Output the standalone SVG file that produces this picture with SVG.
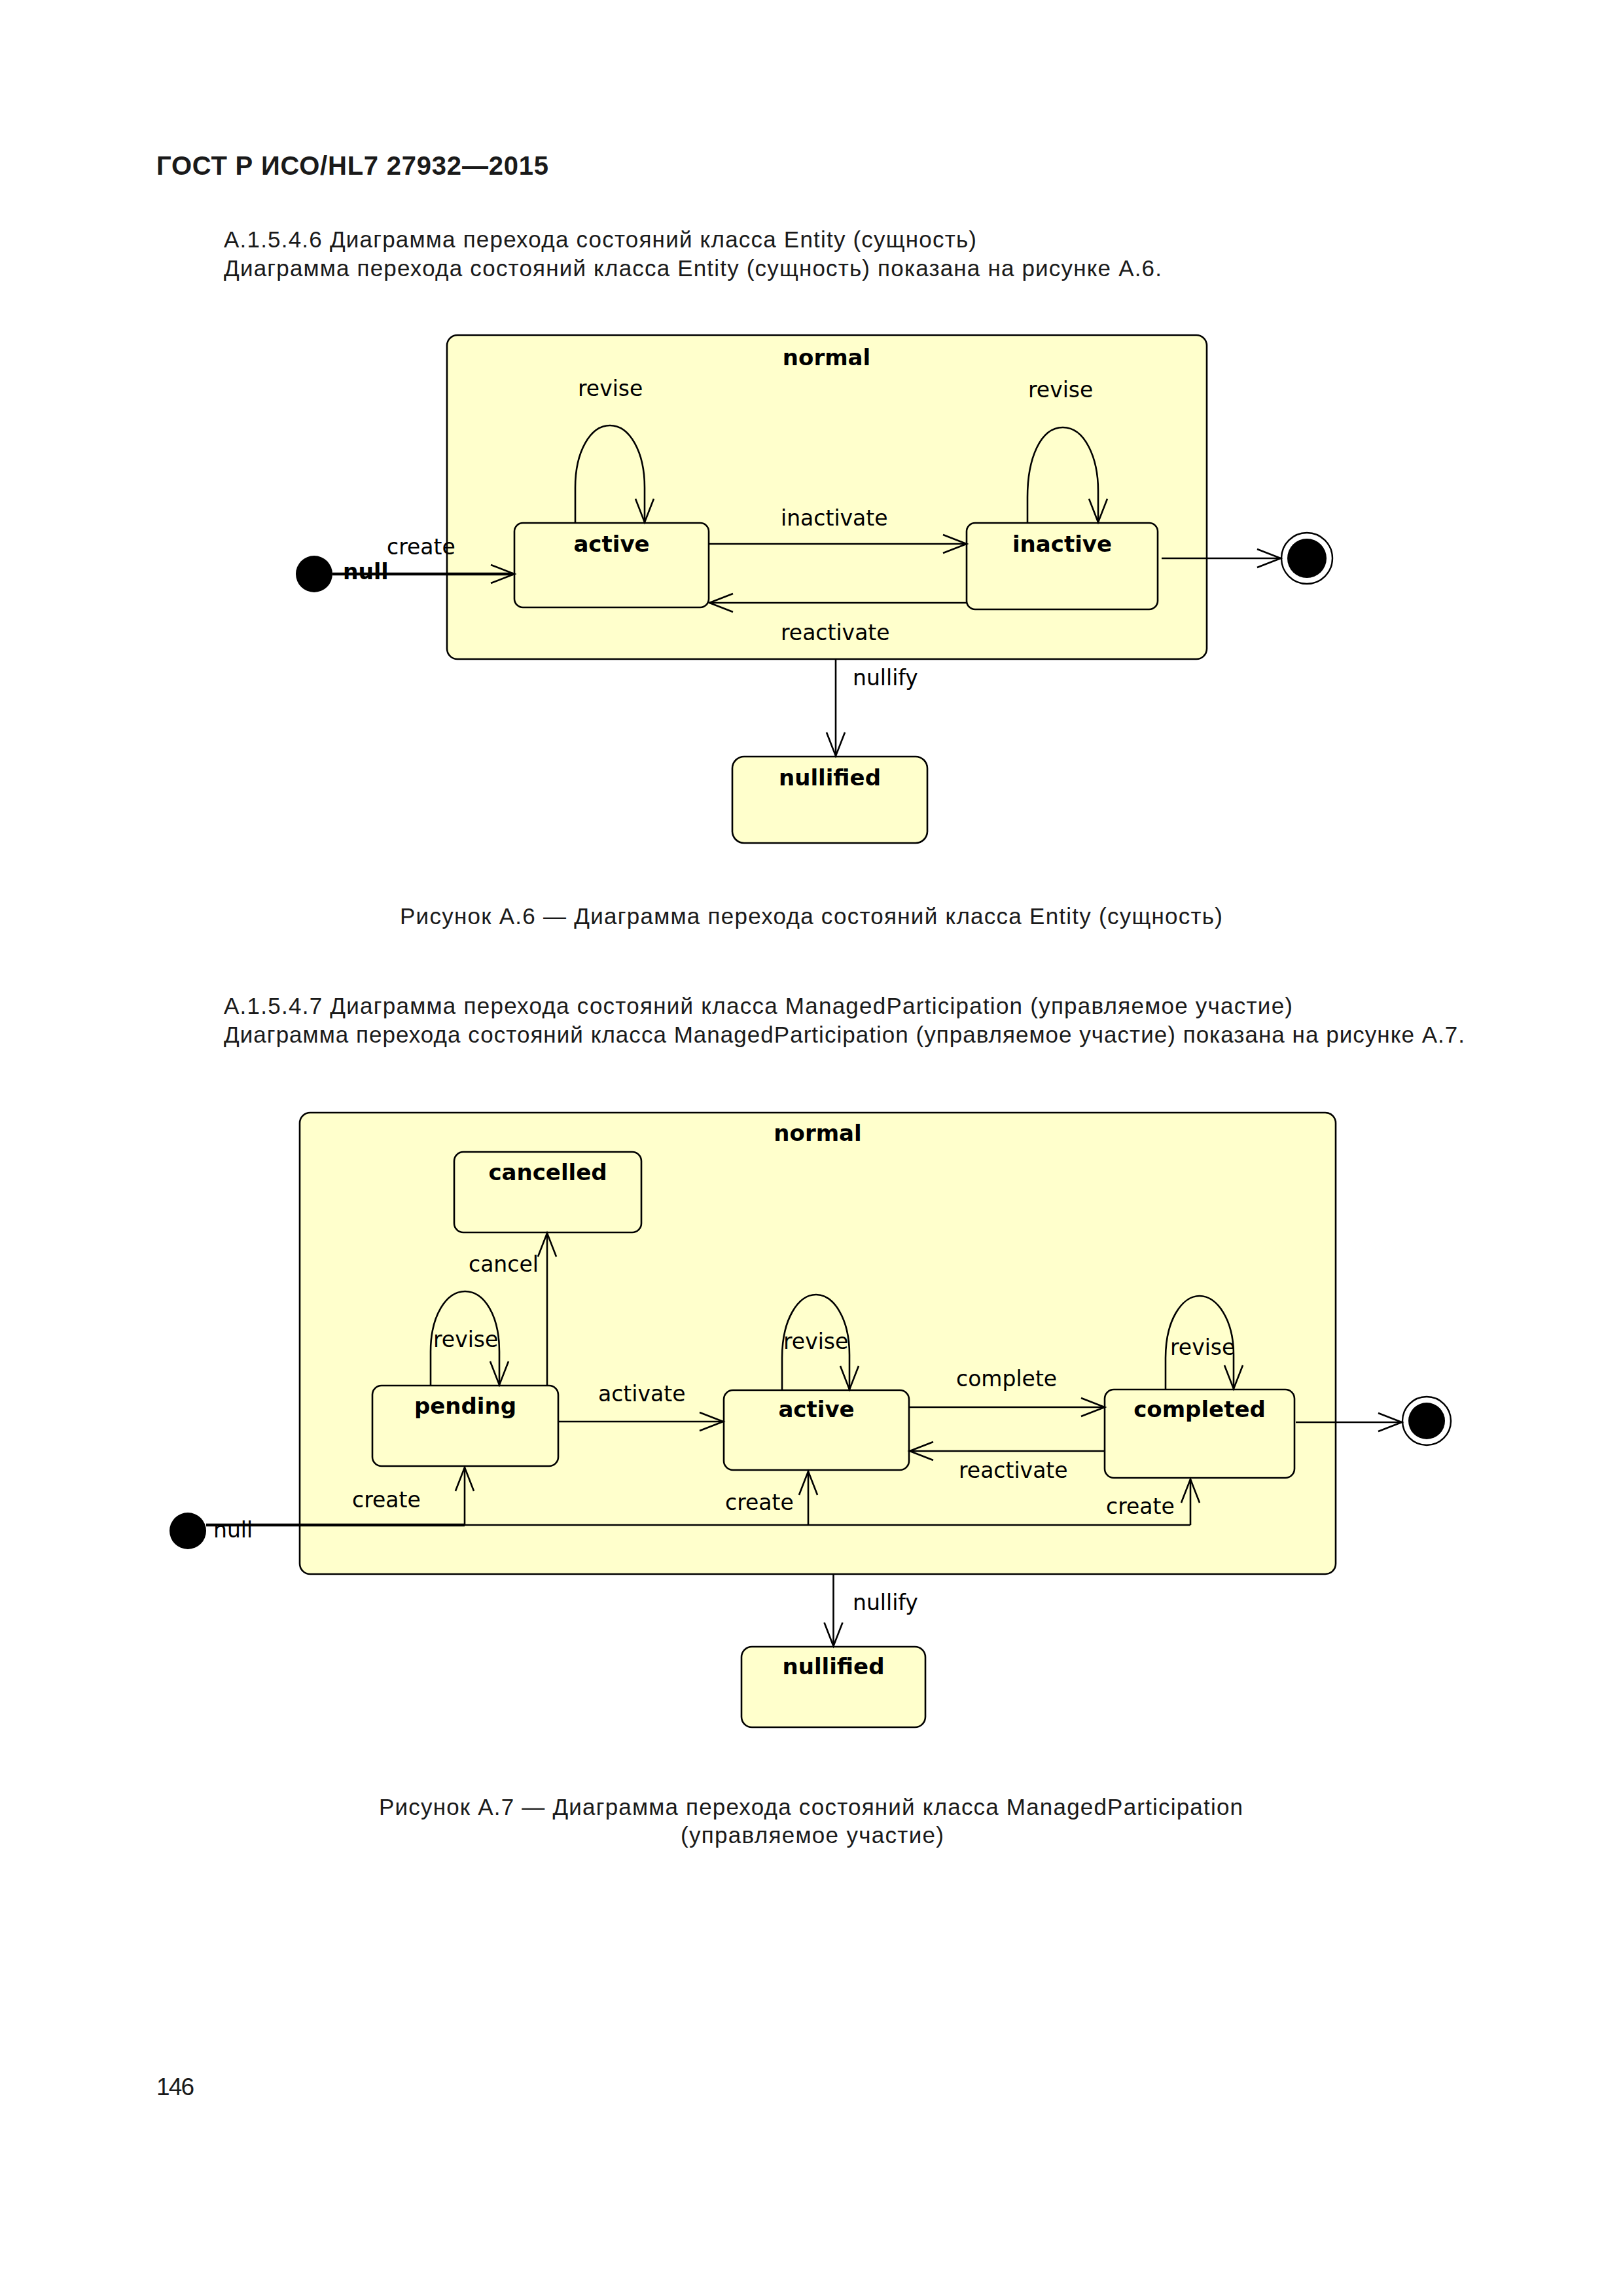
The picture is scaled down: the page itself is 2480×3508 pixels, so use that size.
<svg xmlns="http://www.w3.org/2000/svg" width="2480" height="3508" viewBox="0 0 2480 3508">
<defs>
<style>
.doc{font-family:"Liberation Sans",Arial,sans-serif;font-size:35px;fill:#1a1a1a}
.hdr{font-family:"Liberation Sans",Arial,sans-serif;font-size:40px;font-weight:bold;fill:#1a1a1a}
.box{fill:#FFFFCC;stroke:#000;stroke-width:2.6}
.st{font-family:"DejaVu Sans",Verdana,sans-serif;font-size:34px;font-weight:bold;fill:#000;text-anchor:middle}
.lb{font-family:"DejaVu Sans",Verdana,sans-serif;font-size:33px;fill:#000}
.lbb{font-family:"DejaVu Sans",Verdana,sans-serif;font-size:33px;font-weight:bold;fill:#000}
.ln{fill:none;stroke:#000;stroke-width:2.6}
.thick{fill:none;stroke:#000;stroke-width:4.6}
.ar{marker-end:url(#arr)}
.dot{fill:#000}
.ring{fill:#fff;stroke:#000;stroke-width:2.4}
</style>
<marker id="arr" markerUnits="userSpaceOnUse" viewBox="-40 -18 44 36" markerWidth="44" markerHeight="36" refX="0" refY="0" orient="auto" overflow="visible"><path d="M-36,-14 L0,0 L-36,14" fill="none" stroke="#000" stroke-width="2.6"/></marker>
</defs>
<rect x="0" y="0" width="2480" height="3508" fill="#fff"/>

<g id="page-text">
<text class="hdr" x="239" y="267" textLength="599">ГОСТ Р ИСО/HL7 27932—2015</text>
<text class="doc" x="342" y="378" textLength="1150">А.1.5.4.6 Диаграмма перехода состояний класса Entity (сущность)</text>
<text class="doc" x="342" y="422" textLength="1433">Диаграмма перехода состояний класса Entity (сущность) показана на рисунке А.6.</text>
<text class="doc" x="611" y="1412" textLength="1257">Рисунок А.6 — Диаграмма перехода состояний класса Entity (сущность)</text>
<text class="doc" x="342" y="1549" textLength="1633">А.1.5.4.7 Диаграмма перехода состояний класса ManagedParticipation (управляемое участие)</text>
<text class="doc" x="342" y="1593" textLength="1896">Диаграмма перехода состояний класса ManagedParticipation (управляемое участие) показана на рисунке А.7.</text>
<text class="doc" x="579" y="2773" textLength="1320">Рисунок А.7 — Диаграмма перехода состояний класса ManagedParticipation</text>
<text class="doc" x="1040" y="2816" textLength="402">(управляемое участие)</text>
<text class="doc" x="239" y="3201" style="font-size:37px" textLength="58">146</text>
</g>

<!-- Figure A.6 -->
<g id="fig-a6">
<g id="a6-normal">
<rect class="box" x="683" y="512" width="1161" height="495" rx="16" ry="16"/>
<text class="st" x="1263" y="558">normal</text>
</g>
<g id="a6-active">
<rect class="box" x="786" y="799" width="297" height="129" rx="13" ry="13"/>
<text class="st" x="934.5" y="843">active</text>
</g>
<g id="a6-inactive">
<rect class="box" x="1477" y="799" width="292" height="132" rx="13" ry="13"/>
<text class="st" x="1623" y="843">inactive</text>
</g>
<g id="a6-nullified">
<rect class="box" x="1119" y="1156" width="298" height="132" rx="18" ry="18"/>
<text class="st" x="1268" y="1200">nullified</text>
</g>
<g id="a6-initial">
<circle class="dot" cx="480" cy="877" r="28"/>
</g>
<g id="a6-final">
<circle class="ring" cx="1997" cy="853" r="39"/>
<circle class="dot" cx="1997" cy="853" r="30"/>
</g>
<g id="a6-connectors">
<path class="thick" d="M508,877 L784,877"/>
<path class="ln ar" d="M760,877 L786,877"/>
<path class="ln ar" d="M879,799 L879,745 C879,690 902,650 932,650 C962,650 985,690 985,745 L985,798"/>
<path class="ln ar" d="M1570,799 L1570,760 C1570,700 1590,653 1624,653 C1658,653 1678,700 1678,750 L1678,798"/>
<path class="ln ar" d="M1083,831 L1477,831"/>
<path class="ln ar" d="M1477,921 L1084,921"/>
<path class="ln ar" d="M1775,853 L1957,853"/>
<path class="ln ar" d="M1277,1007 L1277,1155"/>
<text class="lb" x="883" y="605">revise</text>
<text class="lb" x="1571" y="607">revise</text>
<text class="lb" x="1193" y="803">inactivate</text>
<text class="lb" x="1193" y="978">reactivate</text>
<text class="lb" x="591" y="847">create</text>
<text class="lbb" x="524" y="885">null</text>
<text class="lb" x="1303" y="1047">nullify</text>
</g>
</g>

<!-- Figure A.7 -->
<g id="fig-a7">
<g id="a7-normal">
<rect class="box" x="458" y="1700" width="1583" height="705" rx="16" ry="16"/>
<text class="st" x="1249.5" y="1743">normal</text>
</g>
<g id="a7-cancelled">
<rect class="box" x="694" y="1760" width="286" height="123" rx="14" ry="14"/>
<text class="st" x="837" y="1803">cancelled</text>
</g>
<g id="a7-pending">
<rect class="box" x="569" y="2117" width="284" height="123" rx="14" ry="14"/>
<text class="st" x="711" y="2160">pending</text>
</g>
<g id="a7-active">
<rect class="box" x="1106" y="2124" width="283" height="122" rx="14" ry="14"/>
<text class="st" x="1247.5" y="2165">active</text>
</g>
<g id="a7-completed">
<rect class="box" x="1688" y="2123" width="290" height="135" rx="14" ry="14"/>
<text class="st" x="1833" y="2165">completed</text>
</g>
<g id="a7-nullified">
<rect class="box" x="1133" y="2516" width="281" height="123" rx="16" ry="16"/>
<text class="st" x="1273.5" y="2558">nullified</text>
</g>
<g id="a7-initial">
<circle class="dot" cx="287" cy="2339" r="28"/>
</g>
<g id="a7-final">
<circle class="ring" cx="2180" cy="2171" r="37"/>
<circle class="dot" cx="2180" cy="2171" r="28"/>
</g>
<g id="a7-connectors">
<path class="thick" d="M315,2330 L710,2330"/>
<path class="ln" d="M710,2330 L1819,2330"/>
<path class="ln ar" d="M710,2330 L710,2242"/>
<path class="ln ar" d="M1235,2330 L1235,2248"/>
<path class="ln ar" d="M1819,2330 L1819,2260"/>
<path class="ln ar" d="M836,2117 L836,1884"/>
<path class="ln ar" d="M658,2117 L658,2065 C658,2010 682,1973 710.6,1973 C740,1973 763,2010 763,2065 L763,2116"/>
<path class="ln ar" d="M1195,2124 L1195,2075 C1195,2015 1220,1978 1247,1978 C1274,1978 1298,2015 1298,2070 L1298,2123"/>
<path class="ln ar" d="M1781,2123 L1781,2075 C1781,2017 1806,1980 1833,1980 C1860,1980 1885,2017 1885,2070 L1885,2122"/>
<path class="ln ar" d="M853,2172 L1105,2172"/>
<path class="ln ar" d="M1389,2150 L1688,2150"/>
<path class="ln ar" d="M1688,2217 L1390,2217"/>
<path class="ln ar" d="M1980,2173 L2142,2173"/>
<path class="ln ar" d="M1273.5,2405 L1273.5,2515"/>
<text class="lb" x="716" y="1943">cancel</text>
<text class="lb" x="662" y="2058">revise</text>
<text class="lb" x="1197" y="2061">revise</text>
<text class="lb" x="1788" y="2070">revise</text>
<text class="lb" x="914" y="2141">activate</text>
<text class="lb" x="1461" y="2118">complete</text>
<text class="lb" x="1465" y="2258">reactivate</text>
<text class="lb" x="538" y="2303">create</text>
<text class="lb" x="1108" y="2307">create</text>
<text class="lb" x="1690" y="2313">create</text>
<text class="lb" x="326" y="2349">null</text>
<text class="lb" x="1303" y="2460">nullify</text>
</g>
</g>
</svg>
